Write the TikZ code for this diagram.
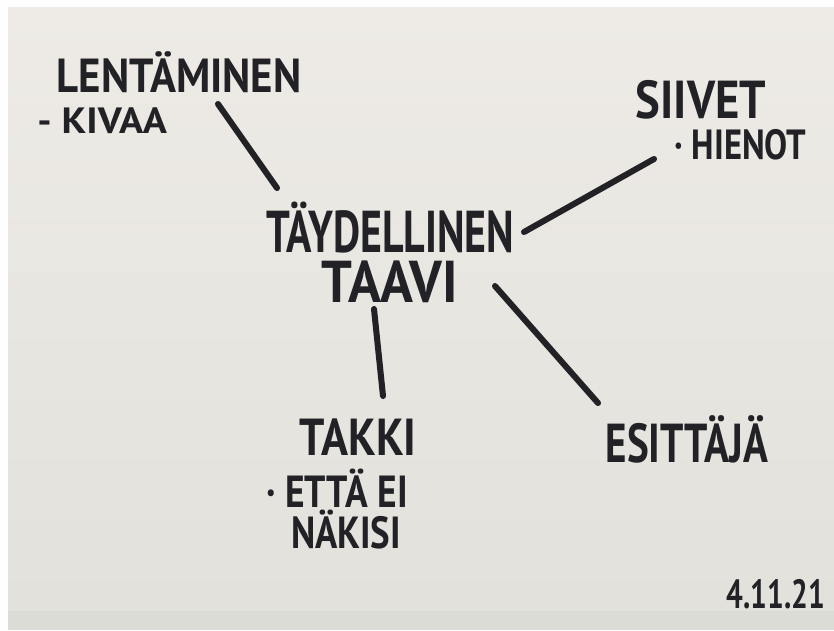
\documentclass[tikz,border=0pt]{standalone}
\usepackage{fontspec}
\newfontfamily\hand{PT Sans}[FakeStretch=0.78]
\newcommand\hw[1]{\hand\bfseries\fontsize{#1}{#1}\selectfont}
\definecolor{ink}{HTML}{222226}
\definecolor{papertop}{HTML}{EEEBE6}
\definecolor{paperbot}{HTML}{E2E1DC}
\definecolor{tabletop}{HTML}{DCDCD7}

\begin{document}
\begin{tikzpicture}[
    inner sep=0pt,
	word/.style={
	  anchor=base,
	  text=ink
	},
	sub/.style={
	  anchor=base west,
	  text=ink
	},
 	line/.style={draw=ink, line width=4.3pt, line cap=round}
	]
	\useasboundingbox (0,0) rectangle (20.85,-15.75);
	\fill[white!96!papertop] (0,0) rectangle (20.85,-15.75);
	\fill[tabletop] (0.2,-15.1) rectangle (20.85,-15.75);
	\shade[top color=papertop, bottom color=paperbot] (0.2,-0.18) rectangle (20.85,-15.25);
    \node at (4.475, -2.3) [word, font=\hw{34}] (lentaminen) {\scalebox{1.15}[1]{LENTÄMINEN}};
	\node at (0.925, -3.325) [sub, font=\hw{26}] (kivaa) {\scalebox{1.4}[1]{- KIVAA}};
	\node at (9.75, -7.55) [word, align=center, font={\hand\bfseries\fontsize{42}{35}\selectfont}] (taavi) {\scalebox{0.91}[1]{TÄYDELLINEN}\\\scalebox{1.18}[1]{TAAVI}};
	\node at (17.525, -2.97) [word, font=\hw{38}] (siivet) {\scalebox{1.12}[1]{SIIVET}};
	\node at (16.85, -3.98) [sub, font=\hw{30}] (hienot) {\scalebox{1.05}[1]{· HIENOT}};
	\node at (8.95, -11.375) [word, font=\hw{37}] (takki) {\scalebox{1.1}[1]{TAKKI}};
	\node at (6.65, -13.7) [sub, align=left, font={\hand\bfseries\fontsize{32}{29}\selectfont}] (etta) {\scalebox{1.07}[1]{· ETTÄ EI}\\\hspace{0.55em}\scalebox{1.05}[1]{NÄKISI}};
	\node at (17.175, -11.55) [word, font=\hw{39}] (esittaja) {\scalebox{0.96}[1]{ESITTÄJÄ}};
	\node at (19.4, -15.22) [word, font=\hw{29}] (pvm) {\scalebox{0.93}[1]{4.11.21}};
	\path[line] ([shift={(0.975,-0.3)}]lentaminen.base) -- ([shift={(-2.825,2.85)}]taavi.base);
	\path[line] ([shift={(3.35,1.75)}]taavi.base) -- ([shift={(-1.175,-1.005)}]siivet.base);
	\path[line] ([shift={(-0.4,-0.175)}]taavi.base) -- ([shift={(0.625,1.475)}]takki.base);
	\path[line] ([shift={(2.625,0.4)}]taavi.base) -- ([shift={(-2.225,1.475)}]esittaja.base);
  \end{tikzpicture}
\end{document}
